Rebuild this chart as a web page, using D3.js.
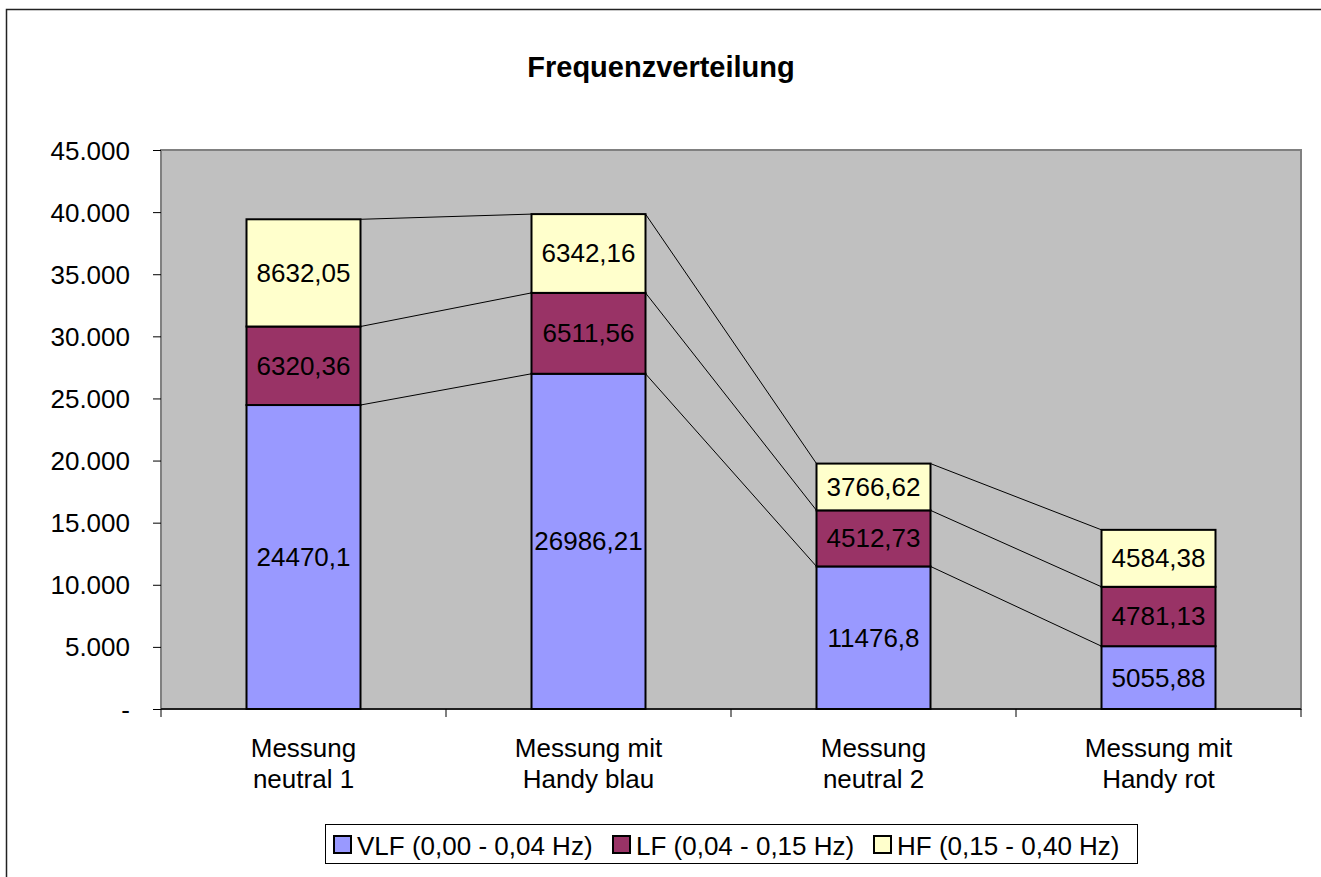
<!DOCTYPE html>
<html>
<head>
<meta charset="utf-8">
<script src="https://cdn.jsdelivr.net/npm/d3@7"></script>
<style>
  body { margin: 0; background: #fff; }
  svg text { font-family: "Liberation Sans", Arial, sans-serif; }
</style>
</head>
<body>
<svg id="svg" width="1321" height="877"></svg>
<script>
// data
const categories = [['Messung', 'neutral 1'], ['Messung mit', 'Handy blau'], ['Messung', 'neutral 2'], ['Messung mit', 'Handy rot']];
const seriesNames = ['VLF (0,00 - 0,04 Hz)', 'LF (0,04 - 0,15 Hz)', 'HF (0,15 - 0,40 Hz)'];
const vlf = [24470.1, 26986.21, 11476.8, 5055.88];
const lf = [6320.36, 6511.56, 4512.73, 4781.13];
const hf = [8632.05, 6342.16, 3766.62, 4584.38];
const yTicks = [0, 5000, 10000, 15000, 20000, 25000, 30000, 35000, 40000, 45000];
const colours = ['#9999ff', '#993366', '#ffffcc'];
const keys = ['VLF', 'LF', 'HF'];

const svg = d3.select('#svg');
const plot = { left: 161, right: 1301, top: 150, bottom: 709 };
const fontSize = '26px';

// outer frame (runs off the right and bottom edge)
svg.append('rect')
  .attr('x', 6.5).attr('y', 9.5)
  .attr('width', 1330).attr('height', 880)
  .attr('fill', '#fff')
  .attr('stroke', '#222').attr('stroke-width', 1.5);

svg.append('text')
  .attr('x', 661).attr('y', 77)
  .attr('text-anchor', 'middle')
  .style('font-size', '29px')
  .style('font-weight', 'bold')
  .text('Frequenzverteilung');

const xScale = d3.scaleBand()
  .domain(d3.range(categories.length))
  .range([plot.left, plot.right])
  .paddingInner(0.6)
  .paddingOuter(0.3);

const bandStep = (plot.right - plot.left) / categories.length;

const yScale = d3.scaleLinear()
  .domain([0, 45000])
  .range([plot.bottom, plot.top]);

// plot background
svg.append('rect')
  .attr('x', plot.left).attr('y', plot.top)
  .attr('width', plot.right - plot.left)
  .attr('height', plot.bottom - plot.top)
  .attr('fill', '#c0c0c0')
  .attr('stroke', '#808080')
  .attr('stroke-width', 2);

// stacked data
const table = categories.map((c, i) => ({ i: i, VLF: vlf[i], LF: lf[i], HF: hf[i] }));
const stack = d3.stack().keys(keys)(table);

// series lines between bars
stack.forEach(layer => {
  for (let i = 0; i < layer.length - 1; i++) {
    svg.append('line')
      .attr('x1', xScale(i) + xScale.bandwidth())
      .attr('y1', yScale(layer[i][1]))
      .attr('x2', xScale(i + 1))
      .attr('y2', yScale(layer[i + 1][1]))
      .attr('stroke', '#000')
      .attr('stroke-width', 1);
  }
});

const fmt = v => String(v).replace('.', ',');

stack.forEach((layer, k) => {
  const g = svg.append('g');
  g.selectAll('rect')
    .data(layer)
    .join('rect')
    .attr('x', (d, i) => xScale(i))
    .attr('y', d => yScale(d[1]))
    .attr('width', xScale.bandwidth())
    .attr('height', d => yScale(d[0]) - yScale(d[1]))
    .attr('fill', colours[k])
    .attr('stroke', '#000')
    .attr('stroke-width', 2);
  g.selectAll('text')
    .data(layer)
    .join('text')
    .attr('x', (d, i) => xScale(i) + xScale.bandwidth() / 2)
    .attr('y', d => (yScale(d[0]) + yScale(d[1])) / 2 + 9)
    .attr('text-anchor', 'middle')
    .style('font-size', fontSize)
    .text(d => fmt(d.data[keys[k]]));
});

// y axis
const yAxis = d3.axisLeft(yScale)
  .tickValues(yTicks)
  .tickSize(8)
  .tickPadding(23)
  .tickFormat(d => d === 0 ? '-' : d3.format(',')(d).replace(/,/g, '.'));

const yAxisG = svg.append('g')
  .attr('transform', `translate(${plot.left},0)`)
  .call(yAxis);
yAxisG.select('path.domain').remove();
yAxisG.selectAll('line').attr('stroke', '#000');
yAxisG.selectAll('text').style('font-size', fontSize).attr('dy', '0.35em').attr('fill', '#000');

// x axis: baseline and ticks at category boundaries
svg.append('line')
  .attr('x1', plot.left).attr('x2', plot.right)
  .attr('y1', plot.bottom).attr('y2', plot.bottom)
  .attr('stroke', '#000').attr('stroke-width', 1.5);

d3.range(categories.length + 1).forEach(i => {
  const x = plot.left + i * bandStep;
  svg.append('line')
    .attr('x1', x).attr('x2', x)
    .attr('y1', plot.bottom).attr('y2', plot.bottom + 8)
    .attr('stroke', '#000');
});

categories.forEach((c, i) => {
  const t = svg.append('text')
    .attr('text-anchor', 'middle')
    .style('font-size', fontSize);
  c.forEach((line, j) => {
    t.append('tspan')
      .attr('x', xScale(i) + xScale.bandwidth() / 2)
      .attr('y', 757 + j * 31)
      .text(line);
  });
});

// legend
const legend = svg.append('g');
legend.append('rect')
  .attr('x', 325.5).attr('y', 824.5)
  .attr('width', 812).attr('height', 39)
  .attr('fill', '#fff')
  .attr('stroke', '#000');

const legendX = [334, 613, 874];
seriesNames.forEach((name, k) => {
  legend.append('rect')
    .attr('x', legendX[k]).attr('y', 836)
    .attr('width', 17).attr('height', 17)
    .attr('fill', colours[k])
    .attr('stroke', '#000')
    .attr('stroke-width', 2);
  legend.append('text')
    .attr('x', legendX[k] + 23).attr('y', 855)
    .style('font-size', fontSize)
    .text(name);
});
</script>
</body>
</html>
